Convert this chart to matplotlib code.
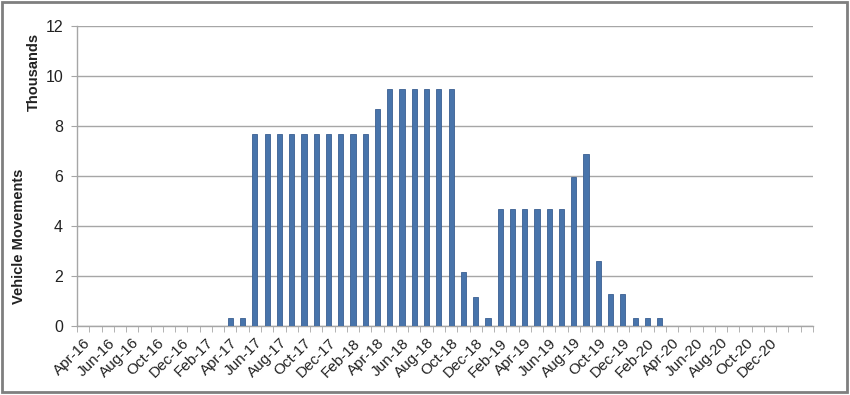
import matplotlib
matplotlib.use("Agg")
import matplotlib.pyplot as plt
import numpy as np
from matplotlib.patches import Rectangle

plt.rcParams["font.family"] = ["Liberation Sans", "DejaVu Sans"]

# monthly categories Apr-16 .. Mar-21
months = ["Jan", "Feb", "Mar", "Apr", "May", "Jun",
          "Jul", "Aug", "Sep", "Oct", "Nov", "Dec"]
categories = []
for k in range(60):
    m = (3 + k) % 12
    y = 16 + (3 + k) // 12
    categories.append(f"{months[m]}-{y}")

# vehicle movements, thousands
values = [0] * 12 + [
    0.31, 0.31,                                             # Apr-17, May-17
    7.68, 7.68, 7.68, 7.68, 7.68, 7.68, 7.68, 7.68, 7.68, 7.68,  # Jun-17..Mar-18
    8.69,                                                   # Apr-18
    9.49, 9.49, 9.47, 9.47, 9.47, 9.47,                     # May-18..Oct-18
    2.17, 1.15, 0.31,                                       # Nov-18..Jan-19
    4.67, 4.67, 4.67, 4.67, 4.67, 4.67,                     # Feb-19..Jul-19
    5.96, 6.89, 2.6, 1.29, 1.29,                            # Aug-19..Dec-19
    0.31, 0.31, 0.31,                                       # Jan-20..Mar-20
] + [0] * 12

# only every second month is labelled, and nothing after Dec-20
label_idx = list(range(0, 57, 2))

fig = plt.figure(figsize=(8.5, 3.95), dpi=100)
ax = fig.add_axes([77 / 850, 1 - 326 / 395, 736 / 850, 300 / 395])

x = np.arange(len(categories))
ax.bar(x, values, width=0.42, color="#4874ab", edgecolor="#3a5f92",
       linewidth=0.6, zorder=3)

ax.set_xlim(-0.5, len(categories) - 0.5)
ax.set_ylim(0, 12)
ax.set_yticks(np.arange(0, 13, 2))
ax.yaxis.grid(True, color="#a6a6a6", linewidth=1.0, zorder=0)

ax.set_xticks(label_idx)
ax.set_xticklabels([categories[i] for i in label_idx], rotation=45,
                   ha="right", rotation_mode="anchor", fontsize=11,
                   color="#222222")
ax.set_xticks(np.arange(-0.5, len(categories)), minor=True)
ax.tick_params(axis="x", which="major", length=0, pad=7)
ax.tick_params(axis="x", which="minor", length=4, color="#a6a6a6")
ax.tick_params(axis="y", length=4, color="#a6a6a6", labelsize=11.5,
               labelcolor="#222222", pad=6)

for side in ["top", "right"]:
    ax.spines[side].set_visible(False)
for side in ["left", "bottom"]:
    ax.spines[side].set_color("#a6a6a6")
    ax.spines[side].set_linewidth(1.0)

fig.text(34 / 850, 1 - 72 / 395, "Thousands", rotation=90, ha="center",
         va="center", fontsize=10.5, fontweight="bold", color="#222222")
fig.text(19 / 850, 1 - 236 / 395, "Vehicle Movements", rotation=90,
         ha="center", va="center", fontsize=10.5, fontweight="bold",
         color="#222222")

fig.patches.append(Rectangle((2 / 850, 3 / 395), 845 / 850, 390 / 395,
                             transform=fig.transFigure, fill=False,
                             edgecolor="#7f7f7f", linewidth=2.0))

fig.savefig("out.png", dpi=100)
